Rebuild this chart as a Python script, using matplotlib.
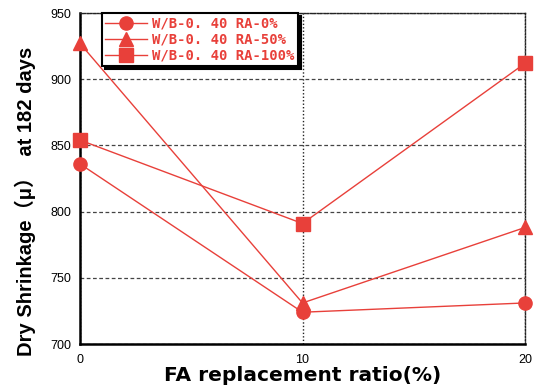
import numpy as np
import matplotlib.pyplot as plt

# FA replacement ratio (%) and 182-day dry shrinkage for each RA content
fa_ratio = [0, 10, 20]
shrink_ra0 = [836, 724, 731]
shrink_ra50 = [927, 731, 788]
shrink_ra100 = [854, 791, 912]
labels = ['W/B-0. 40 RA-0%', 'W/B-0. 40 RA-50%', 'W/B-0. 40 RA-100%']

red = '#e8403a'

fig = plt.figure(figsize=(5.34, 3.87), dpi=100)
ax = fig.add_axes([80 / 534, 1 - 344 / 387, 445 / 534, 331 / 387])

series = [(shrink_ra0, 'o'), (shrink_ra50, '^'), (shrink_ra100, 's')]
for (vals, mk), lab in zip(series, labels):
    ax.plot(fa_ratio, vals, color=red, lw=1.0, marker=mk, markersize=9.5,
            markeredgecolor=red, label=lab, clip_on=False, zorder=3)

ax.set_xlim(0, 20)
ax.set_ylim(700, 950)
ax.set_xticks([0, 10, 20])
ax.set_yticks([700, 750, 800, 850, 900, 950])

# dashed horizontal grid, dotted vertical grid
ax.yaxis.grid(True, linestyle=(0, (3, 2)), color='#444444', lw=0.9)
ax.xaxis.grid(True, linestyle=(0, (1, 1.5)), color='#222222', lw=1.0)
ax.set_axisbelow(True)

for side in ['top', 'right']:
    ax.spines[side].set_linewidth(1.0)
    ax.spines[side].set_linestyle((0, (1.2, 1.2)))
    ax.spines[side].set_color('#222222')
for side in ['left', 'bottom']:
    ax.spines[side].set_linewidth(1.8)

ax.tick_params(axis='both', length=0, labelsize=9)
ax.tick_params(axis='x', pad=7)
ax.tick_params(axis='y', pad=6)
for t in ax.get_xticklabels() + ax.get_yticklabels():
    t.set_fontfamily('Liberation Sans')

ax.set_xlabel('FA replacement ratio(%)', fontsize=14.5, fontweight='bold',
              family='DejaVu Sans', labelpad=0)
ax.set_ylabel('Dry Shrinkage\uff08\u03bc\uff09  at 182 days', fontsize=14.5,
              fontweight='bold', family=['Liberation Sans', 'Noto Sans CJK JP', 'DejaVu Sans'])
ax.yaxis.set_label_coords(-44 / 445, 0.43)

leg = ax.legend(loc='upper left', bbox_to_anchor=(22 / 445, 1.0), fancybox=False,
                shadow={'color': 'black', 'alpha': 1.0, 'ox': 2, 'oy': -2},
                edgecolor='black', framealpha=1, borderpad=0.25, labelspacing=0.15,
                handlelength=3.0, handletextpad=0.35, borderaxespad=0,
                prop={'family': 'DejaVu Sans Mono', 'weight': 'bold', 'size': 10})
leg.get_frame().set_linewidth(1.5)
for t in leg.get_texts():
    t.set_color(red)

fig.savefig('out.png', dpi=100)
